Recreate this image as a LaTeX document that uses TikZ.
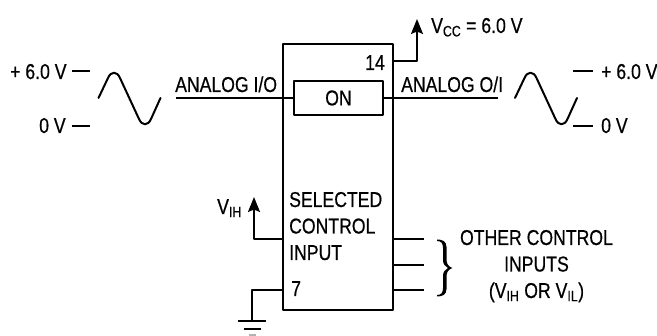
\documentclass[tikz,border=0pt]{standalone}
\usepackage{fontspec}
\setmainfont[FakeStretch=0.82,FakeBold=0.5]{Liberation Sans}
\usetikzlibrary{arrows.meta}
\tikzset{wire/.style={line width=2pt},
  txt/.style={anchor=base west,inner sep=0pt,font=\fontsize{21.5}{26.5}\selectfont},
  midtxt/.style={txt,anchor=base,align=center},
  uparrow/.style={wire,-{Stealth[length=15pt,width=12pt,inset=2.5pt]}}}
\begin{document}
\begin{tikzpicture}[line join=round, x=1pt, y=-1pt]
\useasboundingbox (0,0) rectangle (657,336);
% chip and switch
\node[draw,wire,inner sep=0pt,minimum width=110pt,minimum height=266pt] (IC) at (338,177) {};
\node[draw,wire,midtxt,anchor=center,minimum width=89pt,minimum height=34pt] (ON) at (338.5,98) {ON};
% pins
\coordinate (AI) at (176,98);
\coordinate (AO) at (498,98);
\coordinate (P14) at (393,61);
\coordinate (VC) at (417,61);
\coordinate (VCtop) at (417,19);
\coordinate (P13) at (283,239);
\coordinate (VI) at (254,239);
\coordinate (VItop) at (254,197);
\coordinate (P7) at (283,290);
\coordinate (G) at (252,290);
\coordinate (G1) at (252,321);
\draw[wire] (AI)--(ON.west);
\draw[wire] (ON.east)--(AO);
\draw[uparrow] (P14)--(VC)--(VCtop);
\draw[uparrow] (P13)--(VI)--(VItop);
\draw[wire] (P7)--(G)--(G1);
\draw[wire] (238,321)--(266,321);
\draw[wire] (244,329)--(261,329);
\draw[wire,gray!60] (249,335)--(256,335);
% other control inputs
\foreach \y in {239,265,290}
  \draw[wire] (393,\y)--(423.5,\y);
\fill (437,239.5) .. controls (442,239.5) and (446.5,241) .. (446.5,247) -- (446.5,260) .. controls (446.5,264) and (449,267) .. (452.5,268)
  .. controls (449,269) and (446.5,272) .. (446.5,276) -- (446.5,289) .. controls (446.5,295) and (442,296.5) .. (437,296.5)
  -- (437,295) .. controls (441,295) and (443,293) .. (443,288) -- (443,276) .. controls (443,272) and (445,269.5) .. (448,268)
  .. controls (445,266.5) and (443,264) .. (443,260) -- (443,248) .. controls (443,243) and (441,241) .. (437,241) -- cycle;
% sine waves
\foreach \dx in {0,416.5}
  \draw[wire,line cap=round] (98.5+\dx,98)--(108+\dx,78) .. controls (111+\dx,71) and (117+\dx,71) .. (120+\dx,78)
    --(139+\dx,119) .. controls (142+\dx,126) and (148+\dx,126) .. (151+\dx,119)--(160.5+\dx,98);
% levels
\foreach \xa/\xb in {72/90,573/592.5}{
  \draw[wire] (\xa,71)--(\xb,71);
  \draw[wire] (\xa,126)--(\xb,126);
}
% texts
\node[txt] (hiL) at (10,79) {+ 6.0 V};
\node[txt] (loL) at (39,133) {0 V};
\node[txt] (hiR) at (601,79) {+ 6.0 V};
\node[txt] (loR) at (601,133) {0 V};
\node[txt] (AIt) at (175,92) {ANALOG I/O};
\node[txt] (AOt) at (401,92) {ANALOG O/I};
\node[txt] (VCC) at (431,33) {V\textsubscript{CC} = 6.0 V};
\node[txt,anchor=base east] (N14) at (385,70) {14};
\node[txt] (VIH) at (217,214) {V\textsubscript{IH}};
\node[txt,align=left] (SEL) at (289,260) {SELECTED\\CONTROL\\INPUT};
\node[txt] (N7) at (291,296) {7};
\node[midtxt] (OCI) at (536.5,298) {OTHER CONTROL\\INPUTS\\(V\textsubscript{IH} OR V\textsubscript{IL})};
\end{tikzpicture}
\end{document}
